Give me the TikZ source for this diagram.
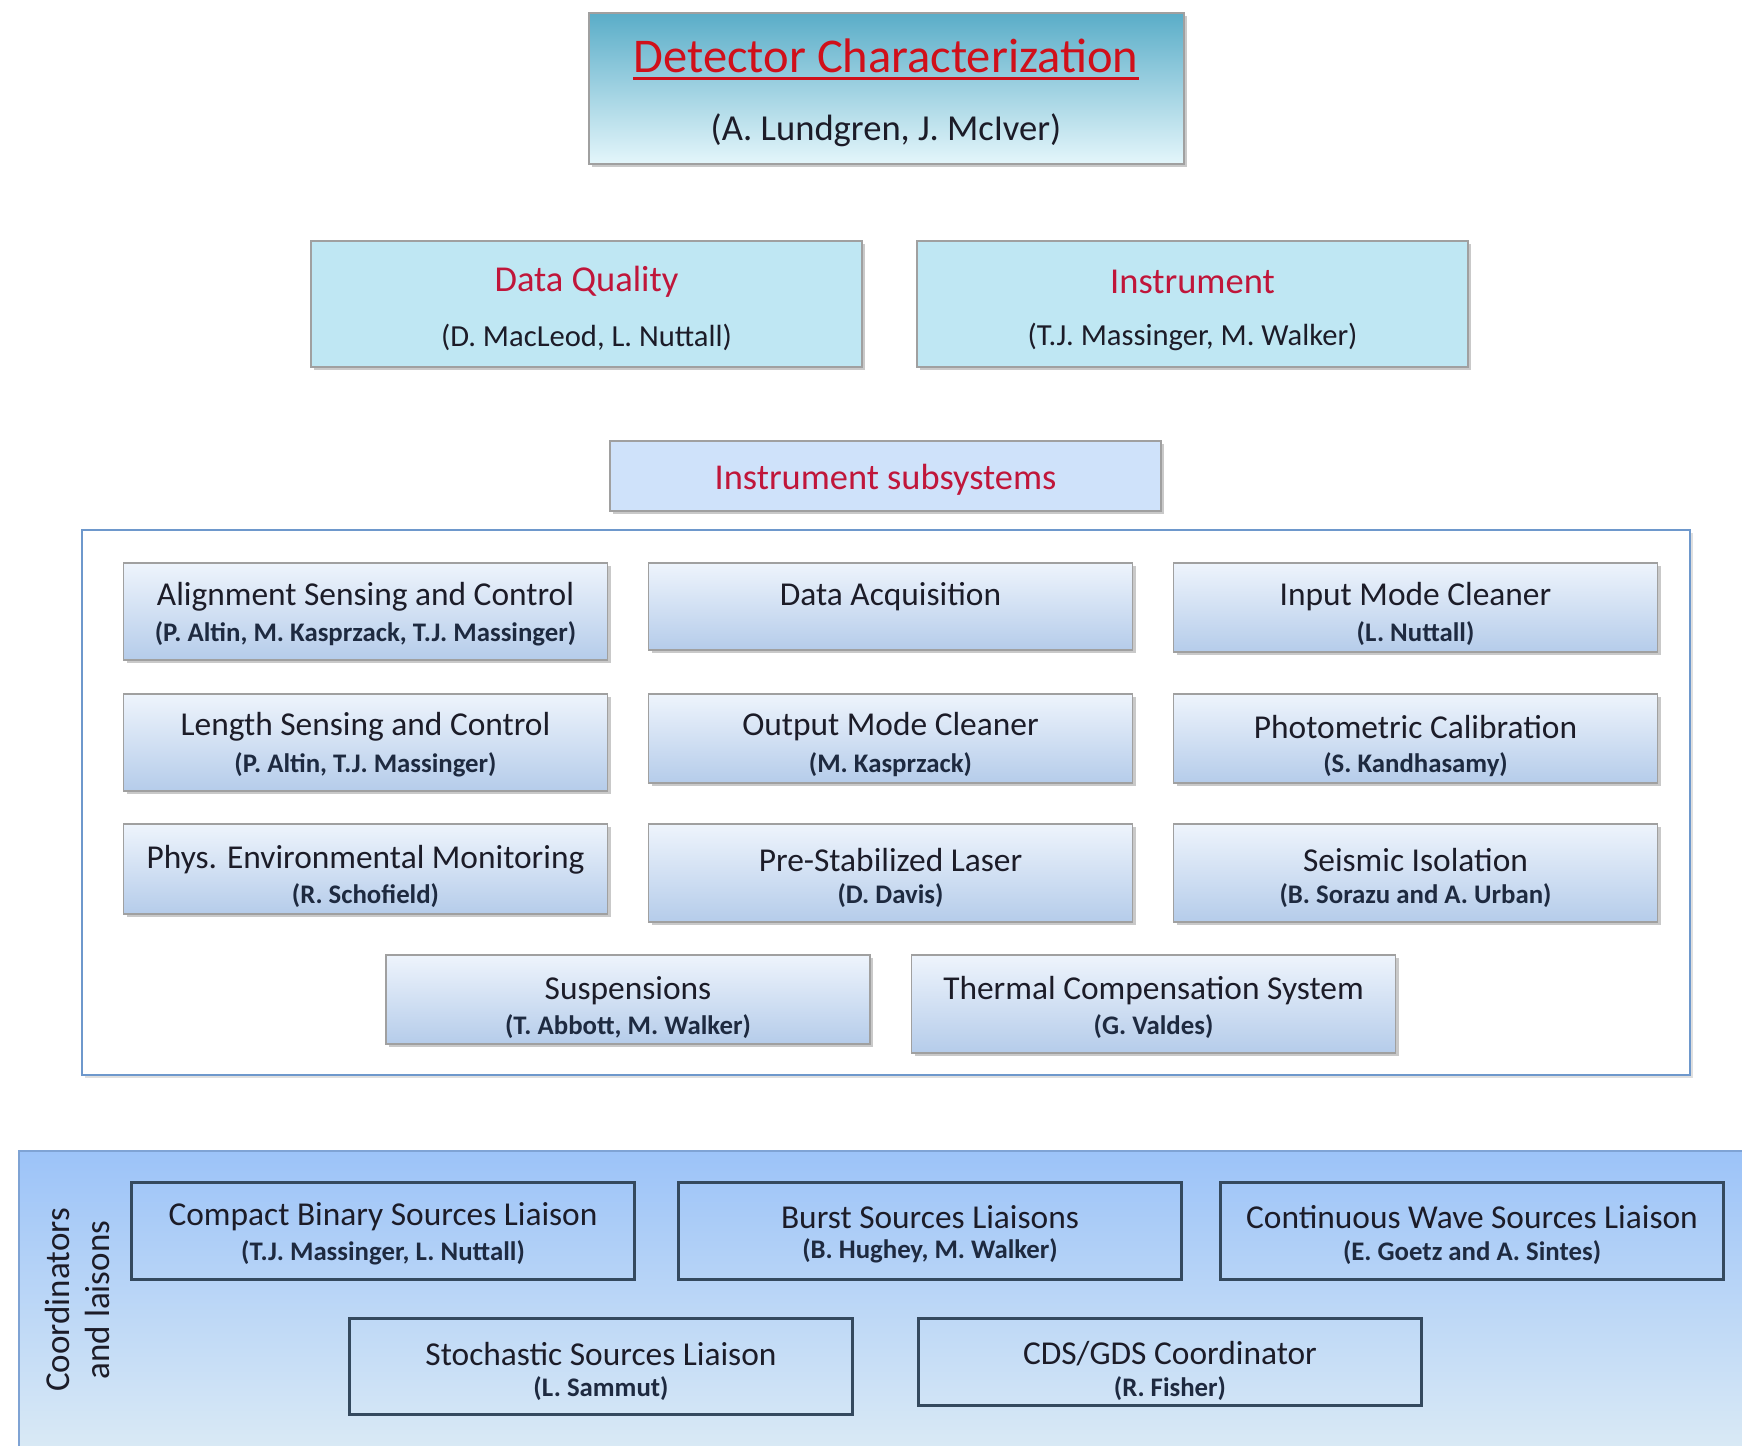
\documentclass[tikz,border=0pt]{standalone}
\usepackage{fontspec}
\setmainfont{Carlito}
\usetikzlibrary{shadows,calc}
\definecolor{hdred}{HTML}{D0101A}
\definecolor{crim}{HTML}{C0163A}
\definecolor{txt}{HTML}{1C1C28}
\definecolor{subtxt}{HTML}{1E2A40}
\definecolor{graybd}{HTML}{A0A0A0}
\definecolor{framebd}{HTML}{6E98CC}
\definecolor{liabd}{HTML}{34495E}
\definecolor{tbtop}{HTML}{5AADC8}
\definecolor{tbmid}{HTML}{A8D9E9}
\definecolor{tbbot}{HTML}{E4F6FB}
\definecolor{lvlfill}{HTML}{BFE7F3}
\definecolor{isfill}{HTML}{CFE2FA}
\definecolor{subtop}{HTML}{EEF4FC}
\definecolor{subbot}{HTML}{B5CCEA}
\definecolor{pantop}{HTML}{9CC3F8}
\definecolor{panbot}{HTML}{DCEBF5}
\definecolor{panbd}{HTML}{7FA3D4}
\begin{document}
\begin{tikzpicture}[x=1pt,y=-1pt,
  shd/.style={drop shadow={shadow xshift=3pt,shadow yshift=-3pt,opacity=0.35,fill=black!60}},
  topbox/.style={draw=graybd,line width=2pt,shd,top color=tbtop,middle color=tbmid,bottom color=tbbot},
  lvlbox/.style={draw=graybd,line width=2pt,shd,fill=lvlfill},
  isbox/.style={draw=graybd,line width=2pt,shd,fill=isfill},
  subbox/.style={draw=graybd,line width=1.6pt,shd,top color=subtop,bottom color=subbot,minimum width=484pt},
  liabox/.style={draw=liabd,line width=3pt,minimum width=503pt},
  ttl/.style={text=txt,font=\fontsize{33.4}{37}\selectfont,inner sep=0pt,yshift=-3pt},
  sbt/.style={text=subtxt,font=\bfseries\fontsize{26.8}{30}\selectfont,inner sep=0pt,yshift=-2pt},
  hd/.style={text=crim,font=\fontsize{36.5}{40}\selectfont,inner sep=0pt,yshift=-3pt},
  hdsub/.style={text=txt,font=\fontsize{30.6}{34}\selectfont,inner sep=0pt,yshift=-1pt}
]
\useasboundingbox (0,0) rectangle (1742,1445);
\fill[white] (0,0) rectangle (1742,1445);

% top
\node[topbox,minimum width=595pt,minimum height=151pt] (top) at (886.5,88.5) {};
\node[text=hdred,font=\fontsize{48.5}{53}\selectfont,inner sep=0pt] (toptitle) at (886,56) {Detector Characterization};
\draw[hdred,line width=2.5pt] ($(toptitle.base west)+(0,6)$) -- ($(toptitle.base east)+(0,6)$);
\node[text=txt,font=\fontsize{36.6}{40}\selectfont,inner sep=0pt] (topsub) at (886,130) {(A. Lundgren, J. McIver)};

% level 2
\node[lvlbox,minimum width=551pt,minimum height=126pt] (dq) at (586.5,304) {};
\node[hd] (dqt) at (586.5,279) {Data Quality};
\node[hdsub] (dqs) at (586.5,336) {(D. MacLeod, L. Nuttall)};
\node[lvlbox,minimum width=551pt,minimum height=126pt] (inst) at (1192.5,304) {};
\node[hd] (instt) at (1192.5,279) {Instrument};
\node[hdsub] (insts) at (1192.5,336) {(T.J. Massinger, M. Walker)};

% instrument subsystems
\node[isbox,minimum width=551pt,minimum height=70pt] (is) at (885.5,476) {};
\node[hd,font=\fontsize{36.4}{40}\selectfont] (ist) at (885.5,477) {Instrument subsystems};

% frame
\node[draw=framebd,line width=2.6pt,fill=white,drop shadow={shadow xshift=3pt,shadow yshift=-3pt,opacity=0.25,fill=black!50},minimum width=1608pt,minimum height=545pt] (frame) at (886,802.5) {};

% row 1
\node[subbox,minimum height=97pt] (asc) at (365.5,611.5) {};
\node[ttl] (asct) at (365.5,594) {Alignment Sensing and Control};
\node[sbt] (ascs) at (365.5,632) {(P. Altin, M. Kasprzack, T.J. Massinger)};
\node[subbox,minimum height=87pt] (daq) at (890.5,606.5) {};
\node[ttl] (daqt) at (890.5,594) {Data Acquisition};
\node[subbox,minimum height=89pt] (imc) at (1415.5,607.5) {};
\node[ttl] (imct) at (1415.5,594) {Input Mode Cleaner};
\node[sbt] (imcs) at (1415.5,632) {(L. Nuttall)};

% row 2
\node[subbox,minimum height=97pt] (lsc) at (365.5,742.5) {};
\node[ttl] (lsct) at (365.5,724) {Length Sensing and Control};
\node[sbt] (lscs) at (365.5,763) {(P. Altin, T.J. Massinger)};
\node[subbox,minimum height=89pt] (omc) at (890.5,738.5) {};
\node[ttl] (omct) at (890.5,724) {Output Mode Cleaner};
\node[sbt] (omcs) at (890.5,763) {(M. Kasprzack)};
\node[subbox,minimum height=89pt] (pc) at (1415.5,738.5) {};
\node[ttl] (pct) at (1415.5,724) {Photometric Calibration};
\node[sbt] (pcs) at (1415.5,763) {(S. Kandhasamy)};

% row 3
\node[subbox,minimum height=90pt] (pem) at (365.5,869) {};
\node[ttl] (pemt) at (365.5,857) {Phys. Environmental Monitoring};
\node[sbt] (pems) at (365.5,894) {(R. Schofield)};
\node[subbox,minimum height=98pt] (psl) at (890.5,873) {};
\node[ttl] (pslt) at (890.5,857) {Pre-Stabilized Laser};
\node[sbt] (psls) at (890.5,894) {(D. Davis)};
\node[subbox,minimum height=98pt] (sei) at (1415.5,873) {};
\node[ttl] (seit) at (1415.5,857) {Seismic Isolation};
\node[sbt] (seis) at (1415.5,894) {(B. Sorazu and A. Urban)};

% row 4
\node[subbox,minimum height=89pt] (sus) at (628,999.5) {};
\node[ttl] (sust) at (628,988) {Suspensions};
\node[sbt] (suss) at (628,1025) {(T. Abbott, M. Walker)};
\node[subbox,minimum height=98pt] (tcs) at (1153.5,1004) {};
\node[ttl] (tcst) at (1153.5,988) {Thermal Compensation System};
\node[sbt] (tcss) at (1153.5,1025) {(G. Valdes)};

% bottom panel
\node[draw=panbd,line width=2pt,top color=pantop,bottom color=panbot,minimum width=1740pt,minimum height=310pt,anchor=north west] (panel) at (18,1150) {};
\node[text=txt,font=\fontsize{35}{40}\selectfont,rotate=90,align=center,inner sep=0pt] (coord) at (77,1300) {Coordinators\\and laisons};

\node[liabox,minimum height=97pt] (cbc) at (383,1230.5) {};
\node[ttl] (cbct) at (383,1214) {Compact Binary Sources Liaison};
\node[sbt] (cbcs) at (383,1251) {(T.J. Massinger, L. Nuttall)};
\node[liabox,minimum height=97pt] (bur) at (930,1230.5) {};
\node[ttl] (burt) at (930,1214) {Burst Sources Liaisons};
\node[sbt] (burs) at (930,1249) {(B. Hughey, M. Walker)};
\node[liabox,minimum height=97pt] (cw) at (1472,1230.5) {};
\node[ttl] (cwt) at (1472,1214) {Continuous Wave Sources Liaison};
\node[sbt] (cws) at (1472,1251) {(E. Goetz and A. Sintes)};
\node[liabox,minimum height=96pt] (sto) at (601,1366) {};
\node[ttl] (stot) at (601,1351) {Stochastic Sources Liaison};
\node[sbt] (stos) at (601,1387) {(L. Sammut)};
\node[liabox,minimum height=87pt] (cds) at (1170,1361.5) {};
\node[ttl] (cdst) at (1170,1351) {CDS/GDS Coordinator};
\node[sbt] (cdss) at (1170,1387) {(R. Fisher)};
\end{tikzpicture}
\end{document}
